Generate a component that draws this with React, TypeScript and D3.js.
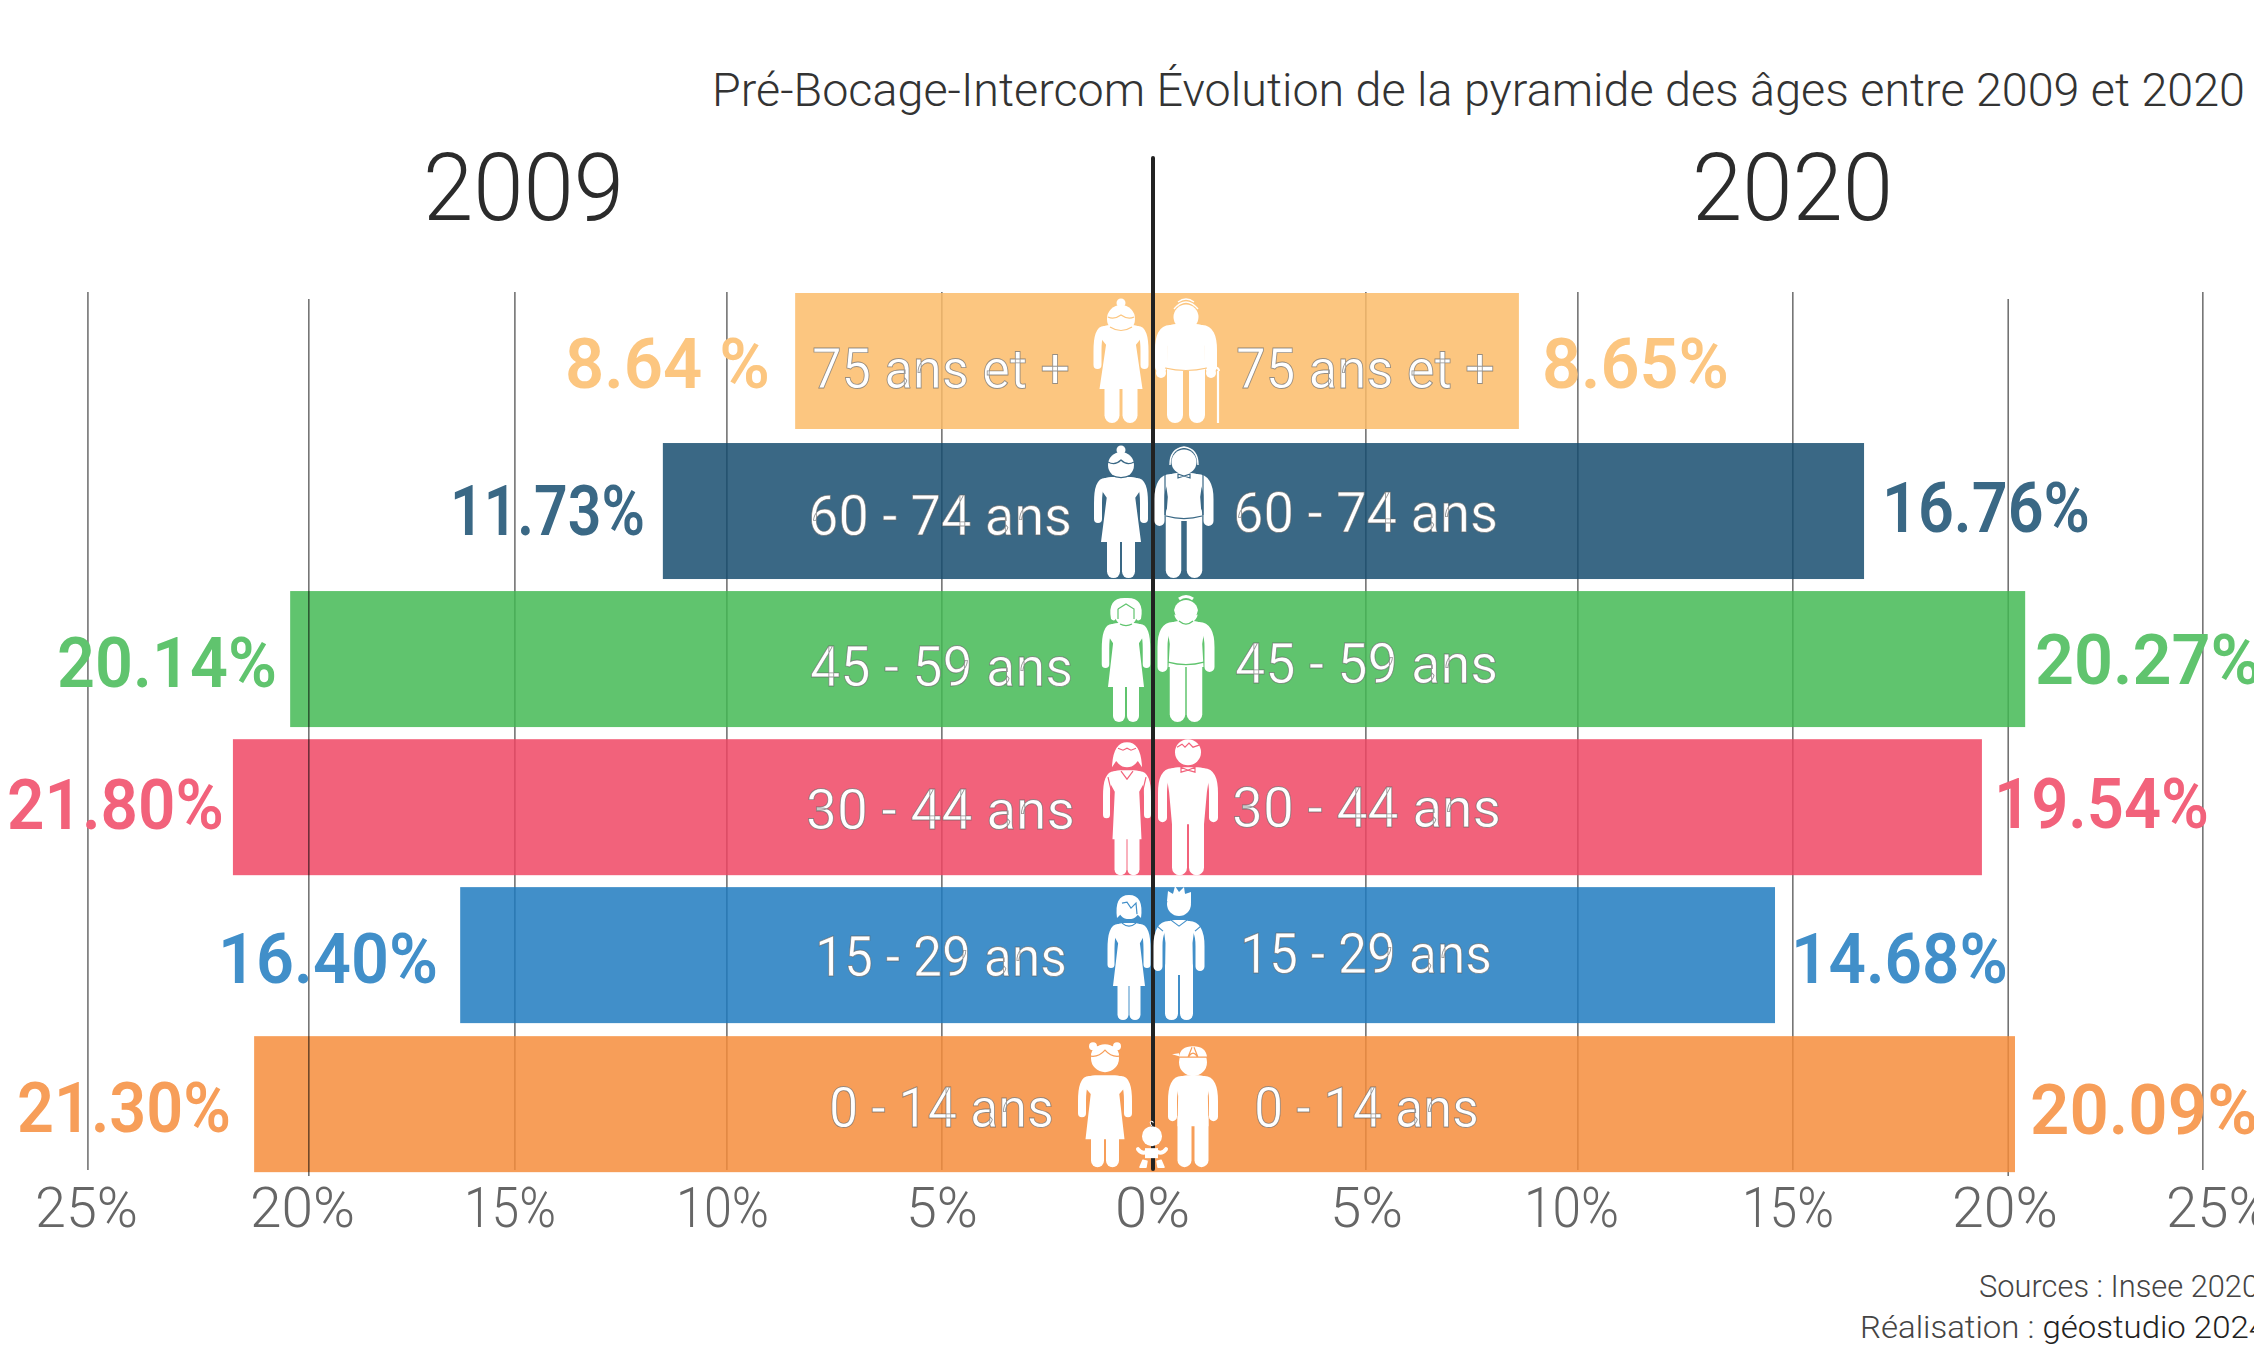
import React from "react";
import * as d3 from "d3";

// ---- data ----
const ageGroups = ["75 ans et +", "60 - 74 ans", "45 - 59 ans", "30 - 44 ans", "15 - 29 ans", "0 - 14 ans"];
const barValues2009 = [8.44, 11.56, 20.35, 21.7, 16.34, 21.2];
const barValues2020 = [8.63, 16.77, 20.57, 19.55, 14.67, 20.33];
const valueLabels2009 = ["8.64 %", "11.73%", "20.14%", "21.80%", "16.40%", "21.30%"];
const valueLabels2020 = ["8.65%", "16.76%", "20.27%", "19.54%", "14.68%", "20.09%"];
const gridValues2009 = [25.12, 19.91, 15.05, 10.05, 4.98];
const gridValues2020 = [5.02, 10.02, 15.09, 20.17, 24.76];
const tickLabels2009 = ["25%", "20%", "15%", "10%", "5%"];
const tickLabels2020 = ["5%", "10%", "15%", "20%", "25%"];
const titleText = "Pré-Bocage-Intercom Évolution de la pyramide des âges entre 2009 et 2020";

// ---- style and layout ----
const rowColours = ["#fcc680", "#3a6885", "#60c46e", "#f2627b", "#418fc9", "#f79e59"];
const BAR_ALPHA = 0.84;
// colour that gives the wanted tint once laid at BAR_ALPHA over white
const barBase = (c: string) => {
  const k = d3.rgb(c);
  const f = (v: number) => Math.max(0, (v - 255 * (1 - BAR_ALPHA)) / BAR_ALPHA);
  return d3.rgb(f(k.r), f(k.g), f(k.b)).formatHex();
};
const FONT = "Roboto, 'Noto Sans', sans-serif";
const CX = 1153;
const PX_PER_PCT = 42.4;
const left = d3.scaleLinear().domain([0, 25]).range([CX, CX - 25 * PX_PER_PCT]);
const right = d3.scaleLinear().domain([0, 25]).range([CX, CX + 25 * PX_PER_PCT]);
const band = d3.scaleBand<number>().domain(d3.range(6)).range([293, 1172]).paddingInner(0.09);
const rowNudge = [0, 1.3, 0.6, 0, -0.8, -0.5];
const BAR_H = 136;

const valueLayoutL = [[565, 388, 205], [450, 535, 195], [57, 687, 220], [7, 829, 217], [218, 983, 220], [17, 1132, 214]];
const valueLayoutR = [[1542, 388, 187], [1882, 532, 208], [2035, 684, 226], [1994, 828, 215], [1791, 983, 217], [2030, 1134, 228]];
const ageLayoutL = [[812, 388, 258], [808, 535, 264], [810, 686, 263], [806, 829, 269], [815, 976, 252], [829, 1127, 225]];
const ageLayoutR = [[1236, 388, 259], [1233, 532, 265], [1235, 683, 263], [1232, 827, 269], [1240, 973, 252], [1254, 1127, 225]];
const tickLayoutL = [[35, 103], [250, 105], [464, 92], [676, 93], [906, 72]];
const tickLayoutR = [[1330, 73], [1524, 95], [1742, 92], [1952, 106], [2166, 104]];

type P = {
  cx: number; hy: number; hr: number; sy: number; arm: number; aw: number; hand: number;
  sh: number; hem: number; hemH: number; leg: number; lw: number; foot: number; dress: boolean; belt?: number;
};

const women: P[] = [
  { cx: -32, hy: 26, hr: 14, sy: 32, arm: 23.5, aw: 8, hand: 76, sh: 22, hem: 96, hemH: 21.5, leg: 9, lw: 15, foot: 130, dress: true },
  { cx: -32, hy: 22, hr: 13, sy: 34, arm: 23, aw: 8, hand: 80, sh: 21, hem: 99, hemH: 20, leg: 7.5, lw: 13, foot: 135, dress: true },
  { cx: -27, hy: 24, hr: 11, sy: 32, arm: 20.5, aw: 7.5, hand: 77, sh: 19, hem: 96, hemH: 18, leg: 7, lw: 12, foot: 131, dress: true },
  { cx: -26, hy: 16, hr: 12, sy: 31, arm: 20.5, aw: 7, hand: 79, sh: 18, hem: 100, hemH: 14.5, leg: 6.5, lw: 12, foot: 136, dress: true },
  { cx: -24, hy: 21, hr: 11, sy: 36, arm: 18, aw: 7, hand: 81, sh: 16, hem: 99, hemH: 16, leg: 6, lw: 11, foot: 133, dress: true },
  { cx: -48, hy: 22, hr: 14, sy: 39, arm: 23, aw: 8, hand: 81, sh: 21, hem: 103, hemH: 19.5, leg: 7.5, lw: 13, foot: 131, dress: true },
];
const men: P[] = [
  { cx: 33, hy: 24, hr: 12.5, sy: 31, arm: 25, aw: 12, hand: 80, sh: 21, hem: 78, hemH: 19, leg: 11, lw: 16, foot: 130, dress: false, belt: 75 },
  { cx: 31, hy: 19, hr: 12.5, sy: 30, arm: 24.5, aw: 10, hand: 83, sh: 18, hem: 78, hemH: 18, leg: 10.5, lw: 15.5, foot: 135, dress: false, belt: 73 },
  { cx: 33, hy: 21, hr: 12, sy: 30, arm: 23.5, aw: 10, hand: 81, sh: 18, hem: 76, hemH: 17.5, leg: 8.5, lw: 15.5, foot: 131, dress: false, belt: 71 },
  { cx: 35, hy: 13, hr: 13, sy: 28, arm: 25.5, aw: 9, hand: 83, sh: 21, hem: 85, hemH: 16, leg: 8.5, lw: 15, foot: 136, dress: false },
  { cx: 26, hy: 17, hr: 12, sy: 33, arm: 21, aw: 9, hand: 84, sh: 15, hem: 88, hemH: 14, leg: 7.5, lw: 13, foot: 133, dress: false },
  { cx: 40, hy: 26, hr: 14, sy: 39, arm: 20.5, aw: 9, hand: 85, sh: 16.5, hem: 90, hemH: 15.5, leg: 8.5, lw: 14, foot: 131, dress: false },
];

function Person({ p, colour }: { p: P; colour: string }) {
  const r = 11;
  const waist = p.dress ? p.sh * 0.68 : p.sh * 0.9;
  const waistY = p.sy + (p.hand - p.sy) * 0.45;
  const torso =
    `M${-p.sh},${p.sy + r} Q${-p.sh},${p.sy} ${-p.sh + r},${p.sy} L${p.sh - r},${p.sy} Q${p.sh},${p.sy} ${p.sh},${p.sy + r} ` +
    `L${waist},${waistY} L${p.hemH},${p.hem} L${-p.hemH},${p.hem} L${-waist},${waistY} Z`;
  const arm = (s: number) =>
    `M${s * (p.sh - 6)},${p.sy + p.aw / 2 + 1} Q${s * p.arm},${p.sy + p.aw / 2} ${s * p.arm},${p.sy + 26} L${s * p.arm},${p.hand - p.aw / 2}`;
  const legTop = p.hem - 8;
  return (
    <g transform={`translate(${p.cx},0)`}>
      <circle cx={0} cy={p.hy} r={p.hr} fill="#fff" />
      <path d={torso} fill="#fff" />
      <path d={arm(-1)} stroke="#fff" strokeWidth={p.aw} strokeLinecap="round" fill="none" />
      <path d={arm(1)} stroke="#fff" strokeWidth={p.aw} strokeLinecap="round" fill="none" />
      {[-1, 1].map((s) => (
        <line key={s} x1={s * p.leg} x2={s * p.leg} y1={legTop} y2={p.foot - p.lw / 2} stroke="#fff" strokeWidth={p.lw} strokeLinecap="round" />
      ))}
      {p.belt ? (
        <path d={`M${-p.sh},${p.belt} Q0,${p.belt + 5} ${p.sh},${p.belt}`} stroke={colour} strokeWidth={1.2} fill="none" />
      ) : null}
    </g>
  );
}

function Details({ i, colour }: { i: number; colour: string }) {
  const W = women[i];
  const M = men[i];
  const line = { stroke: colour, strokeWidth: 1.2, fill: "none" };
  const whiteArc = { stroke: "#fff", strokeWidth: 1.4, fill: "none" };
  if (i === 0)
    return (
      <g>
        <g transform={`translate(${W.cx},0)`}>
          <circle cy={10} r={4.5} fill="#fff" />
          <path d="M-13,24 Q-7,27 0,22 Q7,27 13,24" {...line} />
          <path d="M-11,34 Q0,41 11,34" {...line} />
        </g>
        <g transform={`translate(${M.cx},0)`}>
          <path d="M-12,16 Q0,2 12,16" {...whiteArc} />
          <path d="M-8,9 Q0,3 8,9" {...whiteArc} />
          <path d={`M32,78 L32,130`} stroke="#fff" strokeWidth={2.2} />
          <path d={`M26,77 Q32,72 33,78`} stroke="#fff" strokeWidth={2.2} fill="none" />
          <circle cx={-25} cy={80} r={5} fill="#fff" />
          <circle cx={25} cy={80} r={5} fill="#fff" />
        </g>
      </g>
    );
  if (i === 1)
    return (
      <g>
        <g transform={`translate(${W.cx},0)`}>
          <circle cy={7} r={4.5} fill="#fff" />
          <path d="M-13,19 Q-6,23 0,17 Q6,23 13,19" {...line} />
          <path d="M-10,32 Q0,37 10,32" {...line} />
        </g>
        <g transform={`translate(${M.cx},0)`}>
          <path d="M-14,22 Q-14,6 0,4 Q14,6 14,22" {...whiteArc} />
          <path d="M-6,31 L0,33 L6,31 L6,35 L0,33 L-6,35 Z" {...line} />
          <path d="M-19,30 L-19,72 M19,30 L19,72" {...line} />
        </g>
      </g>
    );
  if (i === 2)
    return (
      <g>
        <g transform={`translate(${W.cx},0)`}>
          <path d="M-15,28 Q-19,6 0,7 Q19,6 15,28 Q11,32 9,25 L9,18 L0,13 L-9,18 L-9,25 Q-11,32 -15,28 Z" fill="#fff" />
          <path d="M-8,18 L0,13 L8,18 L8,28" {...line} />
          <path d="M-8,18 L-8,28 M-6,33 Q0,36 6,33" {...line} />
        </g>
        <g transform={`translate(${M.cx},0)`}>
          <path d="M-7,8 Q0,3 7,8" {...whiteArc} strokeWidth={3} />
          <path d="M-7,30 Q0,36 7,30" {...line} />
          <path d="M-12,13 Q-14,18 -11,24 M12,13 Q14,18 11,24" stroke={colour} strokeWidth={1} fill="none" />
        </g>
      </g>
    );
  if (i === 3)
    return (
      <g>
        <g transform={`translate(${W.cx},0)`}>
          <path d="M-15,28 Q-14,3 0,3 Q14,3 15,28 L11,22 L-11,22 Z" fill="#fff" />
          <path d="M-9,9 L-4,11 L0,9 L4,11 L9,9" {...line} />
          <path d="M-6,32 L0,40 L6,32 M-19,38 L-15,55 M19,38 L15,55" {...line} />
        </g>
        <g transform={`translate(${M.cx},0)`}>
          <path d="M-11,8 L-6,5 L-3,8 L1,4 L5,8 L11,6" {...line} />
          <path d="M-7,28 L0,31 L7,28 L7,33 L0,31 L-7,33 Z" {...line} />
        </g>
      </g>
    );
  if (i === 4)
    return (
      <g>
        <g transform={`translate(${W.cx},0)`}>
          <path d="M-12,31 Q-15,8 0,8 Q15,8 12,31 L8,27 L7,16 L2,21 L-2,15 L-8,20 L-8,27 Z" fill="#fff" />
          <path d="M-7,16 L-2,15 L2,21 L7,16 L8,27" {...line} />
          <path d="M-7,36 Q0,42 7,36" {...line} />
        </g>
        <g transform={`translate(${M.cx},0)`}>
          <path d="M-12,14 L-11,4 L-6,7 L-4,-1 L0,5 L5,0 L6,7 L12,5 L12,16 Z" fill="#fff" />
          <path d="M-8,33 L0,39 L8,33" {...line} />
          <path d="M-16,44 L-23,38 M16,44 L23,38" {...line} />
        </g>
      </g>
    );
  return (
    <g>
      <g transform={`translate(${W.cx},0)`}>
        <circle cx={-12} cy={10} r={4} fill="#fff" />
        <circle cx={12} cy={10} r={4} fill="#fff" />
        <path d="M-14,20 Q-14,9 0,9 Q14,9 14,20 Q6,21 0,14 Q-6,21 -14,20 Z" fill="#fff" />
        <path d="M-14,20 Q-6,21 0,14 Q6,21 14,20" {...line} />
      </g>
      <g transform={`translate(${M.cx},0)`}>
        <path d="M-14,21 Q-13,10 0,10 Q13,10 14,21 Z" fill="#fff" />
        <path d="M-14,21 L14,21 M-5,21 L-1,11 M5,21 L1,11 M-4,20 Q0,14 4,20" {...line} />
        <path d="M-14,17 L-21,18 L-14,20 Z" fill="#fff" />
      </g>
      <g transform="translate(-1,0)">
        <circle cy={100} r={10} fill="#fff" />
        <path d="M0,90 Q-3,86 -1,85 Q2,85 1,87" stroke="#fff" strokeWidth={1} fill="none" />
        <rect x={-7} y={112} width={13} height={10} fill="#fff" />
        <path d="M-14,113 Q-10,118 -6,116 M14,113 Q10,118 6,116" stroke="#fff" strokeWidth={4} strokeLinecap="round" fill="none" />
        <path d="M-12,131 L-9,124 L-5,125 L-6,131 Z M12,131 L9,124 L5,125 L6,131 Z" fill="#fff" stroke="#fff" strokeWidth={1.5} strokeLinejoin="round" />
      </g>
    </g>
  );
}

function T({ x, y, w, size, weight, fill, stroke, children }: any) {
  return (
    <text
      x={x}
      y={y}
      textLength={w}
      lengthAdjust="spacingAndGlyphs"
      fontFamily={FONT}
      fontSize={size}
      fontWeight={weight}
      fill={fill}
      stroke={stroke}
      strokeWidth={stroke ? 0.9 : undefined}
    >
      {children}
    </text>
  );
}

export default function App() {
  const gridline = (x: number, is20: boolean, k: string) => (
    <line key={k} x1={x} x2={x} y1={is20 ? 299 : 292} y2={is20 ? 1176 : 1170} stroke="#000" strokeOpacity={0.55} strokeWidth={1.6} />
  );
  const isFront = (t: string) => t === "20%";
  return (
    <svg width={2254} height={1350} viewBox="0 0 2254 1350" style={{ position: "absolute", left: 0, top: 0, display: "block", background: "#fff" }}>
      <T x={712} y={106} w={1533} size={47} weight={300} fill="#333">{titleText}</T>
      <T x={423} y={220} w={201} size={94} weight={300} fill="#2b2b2b">2009</T>
      <T x={1692} y={220} w={201} size={94} weight={300} fill="#2b2b2b">2020</T>

      {gridValues2009.map((v, i) => (isFront(tickLabels2009[i]) ? null : gridline(left(v), false, "l" + i)))}
      {gridValues2020.map((v, i) => gridline(right(v), isFront(tickLabels2020[i]), "r" + i))}

      {ageGroups.map((_, i) => {
        const y = band(i)! + rowNudge[i];
        const base = barBase(rowColours[i]);
        return (
          <g key={i}>
            <rect x={left(barValues2009[i])} y={y} width={CX - left(barValues2009[i])} height={BAR_H} fill={base} fillOpacity={BAR_ALPHA} />
            <rect x={CX} y={y} width={right(barValues2020[i]) - CX} height={BAR_H} fill={base} fillOpacity={BAR_ALPHA} />
          </g>
        );
      })}

      {gridValues2009.map((v, i) => (isFront(tickLabels2009[i]) ? gridline(left(v), true, "lf" + i) : null))}

      <line x1={CX} x2={CX} y1={158} y2={1169} stroke="#222" strokeWidth={4} strokeLinecap="round" />

      {ageGroups.map((g, i) => {
        const y = band(i)! + rowNudge[i];
        const [lx, ly, lw] = ageLayoutL[i];
        const [rx, ry, rw] = ageLayoutR[i];
        const [vx, vy, vw] = valueLayoutL[i];
        const [ux, uy, uw] = valueLayoutR[i];
        return (
          <g key={g}>
            <T x={lx} y={ly} w={lw} size={56} weight={400} fill="#fff" stroke="rgba(95,95,95,.65)">{g}</T>
            <T x={rx} y={ry} w={rw} size={56} weight={400} fill="#fff" stroke="rgba(95,95,95,.65)">{g}</T>
            <T x={vx} y={vy} w={vw} size={71} weight={600} fill={rowColours[i]}>{valueLabels2009[i]}</T>
            <T x={ux} y={uy} w={uw} size={71} weight={600} fill={rowColours[i]}>{valueLabels2020[i]}</T>
            <g transform={`translate(${CX},${y})`}>
              <Person p={women[i]} colour={rowColours[i]} />
              <Person p={men[i]} colour={rowColours[i]} />
              <Details i={i} colour={rowColours[i]} />
            </g>
          </g>
        );
      })}

      {tickLabels2009.map((t, i) => (
        <T key={"tl" + i} x={tickLayoutL[i][0]} y={1227} w={tickLayoutL[i][1]} size={56} weight={300} fill="#666">{t}</T>
      ))}
      <T x={1115} y={1227} w={75} size={56} weight={300} fill="#666">0%</T>
      {tickLabels2020.map((t, i) => (
        <T key={"tr" + i} x={tickLayoutR[i][0]} y={1227} w={tickLayoutR[i][1]} size={56} weight={300} fill="#666">{t}</T>
      ))}

      <T x={1979} y={1297} w={280} size={31} weight={300} fill="#444">Sources : Insee 2020</T>
      <text x={1860} y={1338} fontFamily={FONT} fontSize={32} fontWeight={300} fill="#444" textLength={407} lengthAdjust="spacingAndGlyphs">
        Réalisation : <tspan fill="#222">géostudio 2024</tspan>
      </text>
    </svg>
  );
}
